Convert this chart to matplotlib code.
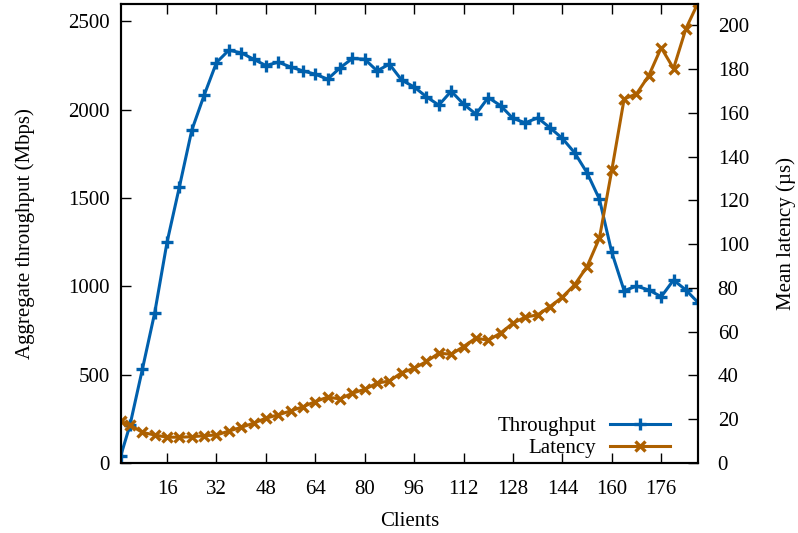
import matplotlib
matplotlib.use('Agg')
import matplotlib.pyplot as plt

plt.rcParams['font.family'] = ['Liberation Serif', 'DejaVu Serif']
plt.rcParams['font.size'] = 15

# clients: 1, then every 4 up to 188
clients = [1] + list(range(4, 189, 4))

throughput = [41, 215, 530, 850, 1250, 1563, 1883, 2081, 2266, 2336,
              2321, 2285, 2249, 2268, 2241, 2219, 2200, 2172, 2236, 2289,
              2285, 2219, 2257, 2166, 2128, 2072, 2025, 2104, 2031, 1974,
              2068, 2022, 1950, 1925, 1953, 1897, 1837, 1755, 1642, 1493,
              1192, 975, 1001, 979, 941, 1035, 979, 907]

latency = [19.0, 17.4, 14.0, 12.8, 11.8, 11.8, 12.0, 12.5, 12.8, 14.6,
           16.3, 18.2, 20.5, 22.0, 23.8, 25.7, 28.1, 30.1, 29.3, 31.9,
           33.7, 36.5, 37.5, 41.3, 43.3, 46.4, 50.2, 49.7, 53.2, 57.1,
           56.1, 59.4, 63.9, 66.7, 67.7, 71.5, 75.8, 81.5, 89.8, 102.8,
           133.8, 166.4, 168.7, 177.1, 189.8, 180.3, 198.5, 210.5]

blue = '#0060ad'
orange = '#ad6000'

fig = plt.figure(figsize=(7.98, 5.33), dpi=100)
ax = fig.add_axes([0.1513, 0.1313, 0.7237, 0.8621])
ax2 = ax.twinx()

l1, = ax.plot(clients, throughput, color=blue, lw=2.2, marker='+',
              markersize=9, mew=2.4, label='Throughput')
l2, = ax2.plot(clients, latency, color=orange, lw=2.2, marker='x',
               markersize=7.5, mew=2.4, label='Latency')

ax.set_xlim(1, 188)
ax.set_ylim(0, 2600)
ax2.set_ylim(0, 210)

ax.set_xticks(range(16, 188, 16))
ax.set_yticks(range(0, 2501, 500))
ax2.set_yticks(range(0, 201, 20))

ax.tick_params(axis='x', direction='in', length=7.5, width=1, top=True, pad=12.5)
ax.tick_params(axis='y', direction='in', length=7.5, width=1, right=False, pad=8)
ax2.tick_params(axis='y', direction='in', length=7.5, width=1, pad=14)

for a in (ax, ax2):
    for s in a.spines.values():
        s.set_linewidth(1.5)

ax.set_xlabel('Clients', labelpad=9)
ax.set_ylabel('Aggregate throughput (Mbps)', labelpad=24)
ax2.set_ylabel('Mean latency (µs)', labelpad=20)

leg = ax2.legend(handles=[l1, l2], loc='lower right', markerfirst=False,
                 frameon=False, handlelength=2.9, handletextpad=0.65,
                 labelspacing=0.12, borderaxespad=0.0,
                 bbox_to_anchor=(0.966, -0.008))

fig.savefig('out.png', dpi=100)
